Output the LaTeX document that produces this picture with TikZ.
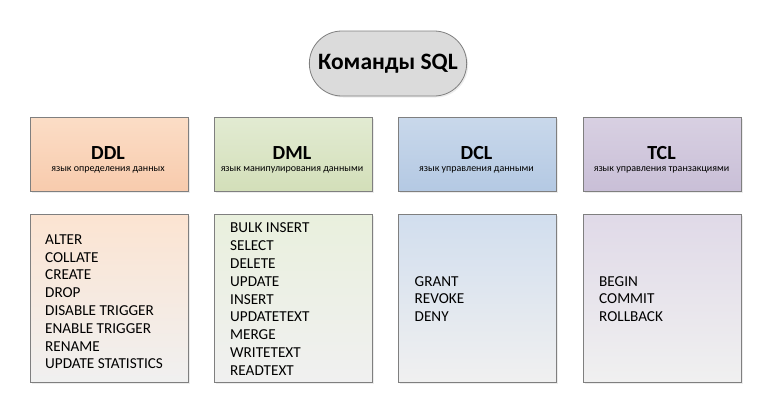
\documentclass[tikz,border=0pt]{standalone}
\usepackage{fontspec}
\setmainfont{Carlito}
\usetikzlibrary{shapes.misc,shadows}
\definecolor{bord}{HTML}{7F7F7F}
\definecolor{ddlc}{HTML}{F8CBAD}
\definecolor{ddlt}{HTML}{FBDDC6}
\definecolor{dmlc}{HTML}{D3DFB9}
\definecolor{dmlt}{HTML}{E2EBD2}
\definecolor{dclc}{HTML}{B4C9E3}
\definecolor{dclt}{HTML}{C9D8EB}
\definecolor{tclc}{HTML}{C9BFD7}
\definecolor{tclt}{HTML}{D8D0E2}
\definecolor{lowb}{HTML}{F0F0F0}
\tikzset{
  hdr/.style={draw=bord, line width=0.8pt, minimum width=158pt, minimum height=74pt, inner sep=0pt,
    drop shadow={shadow xshift=1.5pt, shadow yshift=-1.5pt, opacity=0.15}},
  lowbox/.style={draw=bord, line width=0.8pt, minimum width=158pt, minimum height=168pt, inner sep=0pt,
    drop shadow={shadow xshift=1.5pt, shadow yshift=-1.5pt, opacity=0.15}},
  hname/.style={font=\fontsize{20}{22}\selectfont\bfseries, inner sep=0pt},
  hsub/.style={font=\fontsize{10}{12}\selectfont, inner sep=0pt},
  lst/.style={font=\fontsize{15.2}{17.8}\selectfont, align=left, anchor=north west, inner sep=0pt},
}
\begin{document}
\begin{tikzpicture}[x=1pt,y=-1pt]
\useasboundingbox (0,0) rectangle (765,400);
% title
\node[draw=bord, line width=0.8pt, rounded rectangle, fill=gray!28, minimum width=164pt, minimum height=65pt,
  drop shadow={shadow xshift=1.5pt, shadow yshift=-1.5pt, opacity=0.15},
  font=\fontsize{23.5}{26}\selectfont\bfseries] (title) at (388,63.5) {Команды SQL};
% headers
\node[hdr, top color=ddlt, bottom color=ddlc] (ddl) at (109,154) {};
\node[hdr, top color=dmlt, bottom color=dmlc] (dml) at (293,154) {};
\node[hdr, top color=dclt, bottom color=dclc] (dcl) at (477.5,154) {};
\node[hdr, top color=tclt, bottom color=tclc] (tcl) at (662.5,154) {};
\node[hname] (ddln) at (108,153) {DDL};
\node[hsub] (ddls) at (108,169.5) {язык определения данных};
\node[hname] (dmln) at (292,153) {DML};
\node[hsub] (dmls) at (292,169.5) {язык манипулирования данными};
\node[hname] (dcln) at (476.5,153) {DCL};
\node[hsub] (dcls) at (476.5,169.5) {язык управления данными};
\node[hname] (tcln) at (661.5,153) {TCL};
\node[hsub] (tcls) at (661.5,169.5) {язык управления транзакциями};
% lower boxes
\node[lowbox, top color=ddlt!80!white, bottom color=lowb] (ddlb) at (109,298) {};
\node[lowbox, top color=dmlt!75!white, bottom color=lowb] (dmlb) at (293,298) {};
\node[lowbox, top color=dclt!85!white, bottom color=lowb] (dclb) at (477.5,298) {};
\node[lowbox, top color=tclt!80!white, bottom color=lowb] (tclb) at (662.5,298) {};
% lists
\node[lst] (ddll) at (45,234.3) {ALTER\\COLLATE\\CREATE\\DROP\\DISABLE TRIGGER\\ENABLE TRIGGER\\RENAME\\UPDATE STATISTICS};
\node[lst] (dmll) at (230,222.8) {BULK INSERT\\SELECT\\DELETE\\UPDATE\\INSERT\\UPDATETEXT\\MERGE\\WRITETEXT\\READTEXT};
\node[lst] (dcll) at (414.5,276) {GRANT\\REVOKE\\DENY};
\node[lst] (tcll) at (599,276) {BEGIN\\COMMIT\\ROLLBACK};
\end{tikzpicture}
\end{document}
